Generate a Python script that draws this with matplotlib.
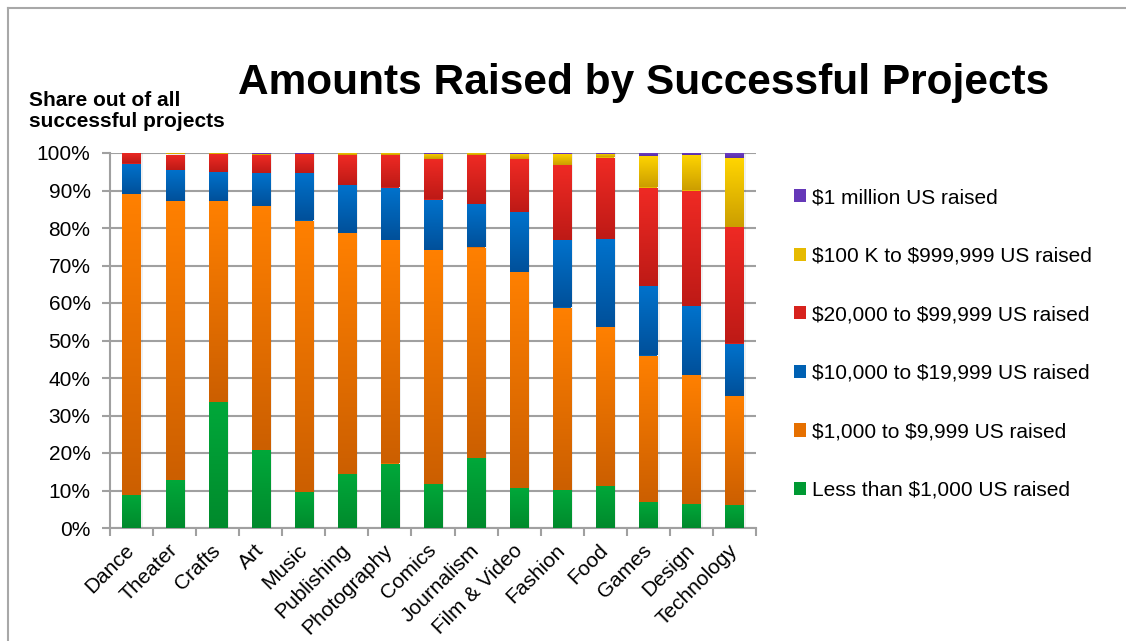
import numpy as np
import matplotlib
matplotlib.use("Agg")
import matplotlib.pyplot as plt
from matplotlib.colors import to_rgb
from matplotlib.lines import Line2D

plt.rcParams['font.family'] = ['Liberation Sans', 'DejaVu Sans']
plt.rcParams['text.parse_math'] = False  # keep the dollar signs literal

# Share of successful projects (%) per funding bracket
categories = ['Dance', 'Theater', 'Crafts', 'Art', 'Music', 'Publishing', 'Photography',
              'Comics', 'Journalism', 'Film & Video', 'Fashion', 'Food', 'Games',
              'Design', 'Technology']
less_1k = [8.9, 12.9, 33.7, 20.9, 9.5, 14.5, 17.2, 11.8, 18.6, 10.6, 10.1, 11.3, 7.0, 6.5, 6.2]
k1_to_10k = [80.1, 74.2, 53.4, 65.0, 72.5, 64.1, 59.5, 62.2, 56.2, 57.8, 48.7, 42.4, 39.0, 34.4, 29.1]
k10_to_20k = [8.2, 8.3, 7.8, 8.7, 12.6, 12.8, 14.1, 13.6, 11.6, 15.9, 18.0, 23.3, 18.5, 18.4, 13.9]
k20_to_100k = [2.8, 4.2, 4.8, 4.8, 5.1, 8.0, 8.6, 10.7, 13.0, 14.0, 19.9, 21.8, 26.3, 30.7, 31.0]
k100_to_1m = [0.0, 0.4, 0.3, 0.4, 0.1, 0.6, 0.6, 1.5, 0.6, 1.5, 3.1, 1.0, 8.3, 9.4, 18.4]
over_1m = [0.0, 0.0, 0.0, 0.2, 0.2, 0.0, 0.0, 0.2, 0.0, 0.2, 0.2, 0.2, 0.9, 0.6, 1.4]

series = [less_1k, k1_to_10k, k10_to_20k, k20_to_100k, k100_to_1m, over_1m]
labels = ['Less than $1,000 US raised', '$1,000 to $9,999 US raised',
          '$10,000 to $19,999 US raised', '$20,000 to $99,999 US raised',
          '$100 K to $999,999 US raised', '$1 million US raised']
# (top colour, bottom colour) of each segment's gradient
grads = [('#00A83A', '#008A2C'), ('#FF8000', '#CC5F00'), ('#0072CC', '#00509A'),
         ('#EF2A24', '#BE1A16'), ('#FFD500', '#CC9E00'), ('#7040C8', '#5A30A8')]

fig = plt.figure(figsize=(11.26, 6.41), dpi=100)
ax = fig.add_axes([110 / 1126, 1 - 528 / 641, 646 / 1126, 375 / 641])

x = np.arange(len(categories))
width = 0.42
bottom = np.zeros(len(categories))
handles = []

# soft shadow to the right of each bar
ax.bar(x + 0.05, np.full(len(categories), 100.0), width, color='#000000', alpha=0.06,
       zorder=2, linewidth=0)

for vals, lab, (top_c, bot_c) in zip(series, labels, grads):
    vals = np.array(vals)
    mid = tuple((np.array(to_rgb(top_c)) + np.array(to_rgb(bot_c))) / 2)
    bars = ax.bar(x, vals, width, bottom=bottom, color=mid, label=lab, zorder=3, linewidth=0)
    # gradient fill: lighter on top, darker at the bottom
    t = np.linspace(0, 1, 64)[:, None]
    img = (1 - t) * np.array(to_rgb(top_c)) + t * np.array(to_rgb(bot_c))
    img = img[:, None, :]
    for b in bars:
        if b.get_height() <= 0:
            continue
        x0, y0 = b.get_x(), b.get_y()
        im = ax.imshow(img, extent=[x0, x0 + b.get_width(), y0, y0 + b.get_height()],
                       aspect='auto', interpolation='bilinear', zorder=4)
        im.set_clip_path(b)
    handles.append(bars)
    bottom += vals

ax.set_xlim(-0.5, len(categories) - 0.5)
ax.set_ylim(0, 100)

ax.set_yticks(np.arange(0, 101, 10))
ax.set_yticklabels([f'{v}%' for v in range(0, 101, 10)], fontsize=15)
ax.set_xticks(x)
ax.set_xticklabels(categories, fontsize=15, rotation=45, ha='right', va='center',
                   rotation_mode='anchor')
ax.set_xticks(np.arange(-0.5, len(categories)), minor=True)
ax.tick_params(axis='x', which='major', length=0, pad=14)
ax.tick_params(axis='x', which='minor', length=6, width=1.5, color='#a0a0a0')
ax.tick_params(axis='y', length=6, width=1.5, color='#a0a0a0', pad=8)

ax.grid(axis='y', color='#a0a0a0', linewidth=1.5, zorder=0)
for s in ['top', 'right']:
    ax.spines[s].set_visible(False)
for s in ['left', 'bottom']:
    ax.spines[s].set_color('#a0a0a0')
    ax.spines[s].set_linewidth(1.5)

fig.text(644 / 1126, 1 - 83 / 641, 'Amounts Raised by Successful Projects',
         fontsize=30.5, fontweight='bold', ha='center', va='center')
fig.text(29 / 1126, 1 - 111 / 641, 'Share out of all\nsuccessful projects',
         fontsize=15, fontweight='bold', ha='left', va='center', linespacing=1.15)

fig.legend(handles[::-1], labels[::-1], loc='center left',
           bbox_to_anchor=(775 / 1126, 1 - 344 / 641), frameon=False, fontsize=15,
           handlelength=0.6, handleheight=0.6, handletextpad=0.3, labelspacing=1.9)

# partial frame around the picture
fig.add_artist(Line2D([8 / 1126, 8 / 1126], [0, 1 - 8 / 641], transform=fig.transFigure,
                      color='#a8a8a8', linewidth=1.5))
fig.add_artist(Line2D([8 / 1126, 1], [1 - 8 / 641, 1 - 8 / 641], transform=fig.transFigure,
                      color='#a8a8a8', linewidth=1.5))

fig.savefig('out.png', dpi=100)
